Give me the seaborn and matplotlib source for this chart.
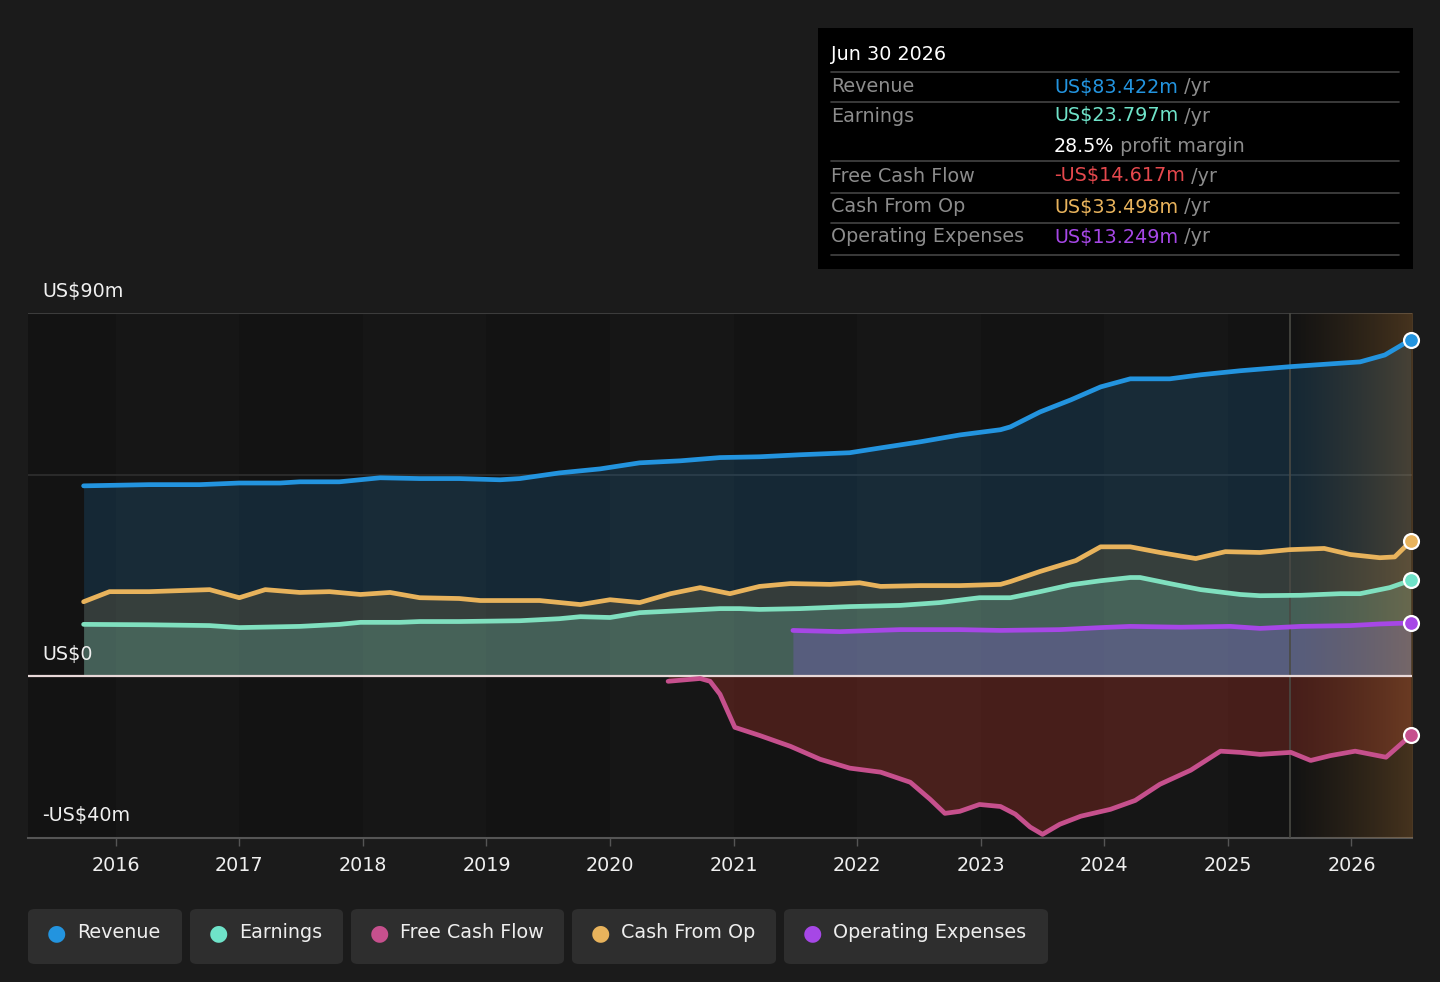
import numpy as np
import pandas as pd
import seaborn as sns
import matplotlib.pyplot as plt
from matplotlib.patches import FancyBboxPatch
from matplotlib.colors import LinearSegmentedColormap

# Data (US$m; x in decimal years)
rev_x = [2015.74, 2016.27, 2016.68, 2017.0, 2017.33, 2017.49, 2017.81, 2018.14, 2018.46, 2018.78,
         2019.11, 2019.27, 2019.59, 2019.92, 2020.24, 2020.57, 2020.89, 2021.21, 2021.54, 2021.94,
         2022.19, 2022.51, 2022.83, 2023.16, 2023.24, 2023.48, 2023.73, 2023.97, 2024.21, 2024.53,
         2024.78, 2025.1, 2025.5, 2025.83, 2026.07, 2026.27, 2026.48]
revenue = [47.2, 47.5, 47.5, 47.9, 47.9, 48.2, 48.2, 49.2, 49.0, 49.0,
           48.7, 49.0, 50.4, 51.4, 52.9, 53.4, 54.2, 54.4, 54.9, 55.4,
           56.6, 58.1, 59.8, 61.1, 61.8, 65.5, 68.5, 71.7, 73.7, 73.7,
           74.7, 75.7, 76.7, 77.4, 77.9, 79.6, 83.4]

cfo_x = [2015.74, 2015.95, 2016.27, 2016.76, 2017.0, 2017.21, 2017.49, 2017.73, 2017.98, 2018.22,
         2018.46, 2018.78, 2018.95, 2019.43, 2019.76, 2020.0, 2020.24, 2020.49, 2020.73, 2020.97,
         2021.21, 2021.46, 2021.78, 2022.02, 2022.19, 2022.51, 2022.83, 2023.16, 2023.24, 2023.48,
         2023.77, 2023.97, 2024.21, 2024.45, 2024.74, 2024.98, 2025.26, 2025.5, 2025.78, 2025.99,
         2026.23, 2026.35, 2026.48]
cash_op = [18.5, 21.0, 21.0, 21.5, 19.5, 21.5, 20.8, 21.0, 20.3, 20.8,
           19.5, 19.3, 18.8, 18.8, 17.8, 19.0, 18.3, 20.5, 22.0, 20.5,
           22.3, 23.0, 22.8, 23.2, 22.3, 22.5, 22.5, 22.8, 23.5, 26.0,
           28.7, 32.1, 32.1, 30.7, 29.2, 30.9, 30.7, 31.4, 31.7, 30.2,
           29.4, 29.6, 33.5]

earn_x = [2015.74, 2016.27, 2016.76, 2017.0, 2017.49, 2017.81, 2017.98, 2018.3, 2018.46, 2018.78,
          2019.27, 2019.59, 2019.76, 2020.0, 2020.24, 2020.57, 2020.89, 2021.05, 2021.21, 2021.54,
          2021.94, 2022.35, 2022.67, 2022.99, 2023.24, 2023.48, 2023.73, 2023.97, 2024.21, 2024.29,
          2024.53, 2024.78, 2025.1, 2025.26, 2025.59, 2025.91, 2026.07, 2026.31, 2026.48]
earnings = [12.9, 12.8, 12.6, 12.1, 12.4, 12.9, 13.4, 13.4, 13.6, 13.6,
            13.8, 14.3, 14.8, 14.6, 15.8, 16.3, 16.8, 16.8, 16.6, 16.8,
            17.3, 17.6, 18.3, 19.5, 19.5, 21.0, 22.7, 23.7, 24.5, 24.5,
            23.0, 21.5, 20.3, 20.0, 20.1, 20.5, 20.5, 22.0, 23.8]

opex_x = [2021.48, 2021.86, 2022.35, 2022.83, 2023.16, 2023.64, 2023.97, 2024.21, 2024.62, 2025.02,
          2025.26, 2025.59, 2025.99, 2026.23, 2026.48]
opex = [11.4, 11.1, 11.6, 11.6, 11.4, 11.6, 12.1, 12.4, 12.2, 12.4,
        11.9, 12.4, 12.6, 13.0, 13.25]

fcf_x = [2020.47, 2020.73, 2020.81, 2020.89, 2021.01, 2021.21, 2021.46, 2021.7, 2021.94, 2022.19,
         2022.43, 2022.59, 2022.71, 2022.83, 2022.99, 2023.16, 2023.28, 2023.4, 2023.5, 2023.64,
         2023.81, 2024.05, 2024.25, 2024.45, 2024.7, 2024.94, 2025.1, 2025.26, 2025.51, 2025.67,
         2025.83, 2026.03, 2026.28, 2026.48]
fcf = [-1.2, -0.5, -1.2, -4.4, -12.6, -14.6, -17.3, -20.5, -22.7, -23.7,
       -26.2, -30.4, -33.9, -33.4, -31.7, -32.2, -34.1, -37.3, -39.1, -36.6,
       -34.6, -32.9, -30.7, -26.7, -23.2, -18.5, -18.8, -19.3, -18.8, -20.8,
       -19.6, -18.5, -20.0, -14.6]

series_names = ['Revenue', 'Earnings', 'Free Cash Flow', 'Cash From Op', 'Operating Expenses']
series_colors = ['#2394df', '#6fe3c9', '#c6508d', '#e8b35c', '#a647e6']
line_colors = ['#2394df', '#80e0bf', '#c6508d', '#e8b35c', '#a647e6']
fill_colors = ['#2394df', '#7fe0bf', '#c0392b', '#e8b35c', '#8a5ae0']
fill_alpha = [0.17, 0.22, 0.3, 0.15, 0.28]

tip_date = 'Jun 30 2026'
tip_labels = ['Revenue', 'Earnings', '', 'Free Cash Flow', 'Cash From Op', 'Operating Expenses']
tip_values = ['US$83.422m', 'US$23.797m', '28.5%', '-US$14.617m', 'US$33.498m', 'US$13.249m']
tip_suffix = [' /yr', ' /yr', ' profit margin', ' /yr', ' /yr', ' /yr']
tip_colors = ['#2394df', '#6fe3c9', '#ffffff', '#e5484d', '#e8b35c', '#a647e6']

year_ticks = list(range(2016, 2027))
y_labels = {90: 'US$90m', 0: 'US$0', -40: '-US$40m'}
grid_vals = [90, 50]
forecast_start = 2025.5
x_lo, x_hi = 2015.29, 2026.49
y_lo, y_hi = -40, 90

BG = '#1b1b1b'
sns.set_theme(style='dark', rc={'figure.facecolor': BG, 'axes.facecolor': '#131313',
                                'text.color': 'white', 'xtick.color': '#eeeeee'})
plt.rcParams['font.family'] = ['DejaVu Sans']
FS = 13.8

fig = plt.figure(figsize=(14.4, 9.82), dpi=100)
ax = fig.add_axes([28 / 1440, 144 / 982, 1384 / 1440, 525 / 982])

frames = {
    'Revenue': pd.DataFrame({'x': rev_x, 'y': revenue}),
    'Earnings': pd.DataFrame({'x': earn_x, 'y': earnings}),
    'Free Cash Flow': pd.DataFrame({'x': fcf_x, 'y': fcf}),
    'Cash From Op': pd.DataFrame({'x': cfo_x, 'y': cash_op}),
    'Operating Expenses': pd.DataFrame({'x': opex_x, 'y': opex}),
}

# faint year bands
for i, yr in enumerate(year_ticks[:-1]):
    if i % 2 == 0:
        ax.axvspan(yr, yr + 1, color='#161616', zorder=0, lw=0)

for g in grid_vals:
    ax.axhline(g, color='#3c3c3c' if g == 90 else '#2a2a2a', lw=1.5, zorder=1)

# fills
fill_order = ['Revenue', 'Cash From Op', 'Earnings', 'Operating Expenses', 'Free Cash Flow']
for name in fill_order:
    i = series_names.index(name)
    df = frames[name]
    ax.fill_between(df['x'], df['y'], 0, color=fill_colors[i], alpha=fill_alpha[i], lw=0, zorder=2)

# forecast overlay (gradient)
cmap = LinearSegmentedColormap.from_list('fc', [(0.55, 0.38, 0.15, 0.0), (0.75, 0.5, 0.22, 0.3)])
grad = np.linspace(0, 1, 256).reshape(1, -1)
ax.imshow(grad, extent=[forecast_start, x_hi, y_lo, y_hi], aspect='auto', cmap=cmap,
          zorder=3, interpolation='bicubic')
ax.axvline(forecast_start, color='#4a4a44', lw=1.2, zorder=3)

# lines
for name in series_names:
    i = series_names.index(name)
    sns.lineplot(data=frames[name], x='x', y='y', ax=ax, color=line_colors[i], lw=3.4,
                 zorder=5, legend=False)
    df = frames[name]
    ax.scatter(df['x'].iloc[-1], df['y'].iloc[-1], s=115, color=series_colors[i],
               edgecolor='white', linewidth=1.6, zorder=7, clip_on=False)

ax.axhline(0, color='#e8d8d8', lw=1.6, zorder=4)

ax.set_xlim(x_lo, x_hi)
ax.set_ylim(y_lo, y_hi)
ax.set_xticks(year_ticks)
ax.set_xticklabels([str(y) for y in year_ticks], fontsize=FS, color='#f0f0f0')
ax.set_yticks([])
ax.set_xlabel('')
ax.set_ylabel('')
ax.tick_params(axis='x', length=6, width=1, color='#555555', pad=7, bottom=True)
for s in ['top', 'right', 'left']:
    ax.spines[s].set_visible(False)
ax.spines['bottom'].set_color('#555555')
ax.spines['bottom'].set_linewidth(1.5)

for val, lab in y_labels.items():
    yy = ax.transData.transform((0, val))[1] / fig.bbox.height
    fig.text(42 / 1440, yy + 22 / 982, lab, fontsize=FS, color='#f0f0f0', va='center')

# legend pills
pill_x = [28, 190, 351, 572, 784]
pill_w = [154, 153, 213, 204, 264]
for i, name in enumerate(series_names):
    x0 = pill_x[i] / 1440
    fig.patches.append(FancyBboxPatch((x0, 18 / 982), pill_w[i] / 1440, 55 / 982,
                                      boxstyle='round,pad=0,rounding_size=0.005',
                                      transform=fig.transFigure, facecolor='#2e2e2e',
                                      edgecolor='none'))
    fig.text(x0 + 28 / 1440, 49 / 982, '\u25CF', color=series_colors[i], fontsize=16,
             va='center', ha='center')
    fig.text(x0 + 49 / 1440, 49 / 982, name, color='#eeeeee', fontsize=FS, va='center')

# tooltip box
fig.patches.append(plt.Rectangle((818 / 1440, 713 / 982), 595 / 1440, 241 / 982,
                                 transform=fig.transFigure, facecolor='black', edgecolor='none'))
fig.text(831 / 1440, 1 - 55 / 982, tip_date, color='white', fontsize=FS, va='center')
row_y = [87, 116, 146, 176, 207, 237]
sep_y = [72, 102, 161, 193, 223, 255]
for sy in sep_y:
    fig.add_artist(plt.Line2D([831 / 1440, 1399 / 1440], [1 - sy / 982] * 2,
                              transform=fig.transFigure, color='#444444', lw=1.2))
fig.canvas.draw()
for i, ry in enumerate(row_y):
    yy = 1 - ry / 982
    if tip_labels[i]:
        fig.text(831 / 1440, yy, tip_labels[i], color='#8c8c8c', fontsize=FS, va='center')
    t = fig.text(1054 / 1440, yy, tip_values[i], color=tip_colors[i], fontsize=FS, va='center')
    bb = t.get_window_extent(renderer=fig.canvas.get_renderer())
    fig.text(bb.x1 / 1440, yy, tip_suffix[i], color='#8c8c8c', fontsize=FS, va='center')

fig.savefig('out.png', dpi=100, facecolor=BG)
